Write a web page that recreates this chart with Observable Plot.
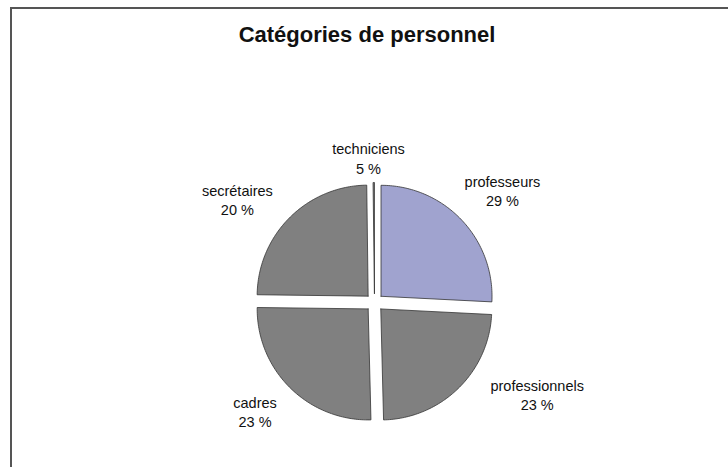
<!DOCTYPE html>
<html><head><meta charset="utf-8">
<script src="https://cdn.jsdelivr.net/npm/d3@7"></script>
<script src="https://cdn.jsdelivr.net/npm/@observablehq/plot@0.6"></script>
<style>
body{margin:0;background:#fff;}
#wrap{position:relative;width:728px;height:467px;overflow:hidden;font-family:"Liberation Sans",Arial,sans-serif;}
#frame{position:absolute;left:10px;top:7px;width:740px;height:480px;border-left:2px solid #555;border-top:2px solid #555;}
#title{position:absolute;left:0;width:734px;top:21px;text-align:center;font-weight:bold;font-size:22px;line-height:28px;color:#111;}
#chart{position:absolute;left:0;top:0;}
</style></head><body>
<div id="wrap"><div id="frame"></div><div id="title">Catégories de personnel</div><div id="chart"></div></div>
<script>
// Data
const categories = ["professeurs", "professionnels", "cadres", "secrétaires", "techniciens"];
const sliceShare = [25.8, 23.8, 25.6, 24.6, 0.2];   // slice sizes as drawn
const labelPct = ["29 %", "23 %", "23 %", "20 %", "5 %"]; // data-label texts as printed
const sliceColors = ["#A0A3CF", "#808080", "#808080", "#808080", "#808080"];

// Layout (pixels)
const W = 728, H = 467, CX = 374, CY = 302, R = 111, EXPLODE = 9, LABEL_R = 160;
const labelNudge = [[12, -2], [51, -23], [-7, -5], [-24, 10], [-5, 15]];

const arcs = d3.pie().sort(null).value(d => d)(sliceShare);
const pts = [];
const labels = [];
arcs.forEach((a, i) => {
  const name = categories[i];
  const mid = (a.startAngle + a.endAngle) / 2;
  const ox = EXPLODE / R * Math.sin(mid), oy = EXPLODE / R * Math.cos(mid);
  pts.push({name, x: ox, y: oy});
  const n = Math.max(2, Math.ceil((a.endAngle - a.startAngle) / (Math.PI / 180)));
  for (let k = 0; k <= n; k++) {
    const t = a.startAngle + (a.endAngle - a.startAngle) * k / n;
    pts.push({name, x: ox + Math.sin(t), y: oy + Math.cos(t)});
  }
  pts.push({name, x: ox, y: oy});
  labels.push({
    text: name + "\n" + labelPct[i],
    x: LABEL_R / R * Math.sin(mid) + labelNudge[i][0] / R,
    y: LABEL_R / R * Math.cos(mid) - labelNudge[i][1] / R
  });
});

const chart = Plot.plot({
  width: W, height: H, margin: 0,
  style: {fontFamily: "'Liberation Sans', Arial, sans-serif", background: "transparent", overflow: "visible"},
  x: {domain: [-CX / R, (W - CX) / R], range: [0, W], axis: null},
  y: {domain: [(CY - H) / R, CY / R], range: [H, 0], axis: null},
  color: {domain: categories, range: sliceColors},
  marks: [
    Plot.line(pts, {x: "x", y: "y", z: "name", fill: "name", stroke: "#333", strokeWidth: 0.8, curve: "linear"}),
    Plot.text(labels, {x: "x", y: "y", text: "text", fontSize: 14.5, lineHeight: 1.35, fill: "#111", textAnchor: "middle", lineAnchor: "middle"})
  ]
});
document.getElementById("chart").append(chart);
</script>
</body></html>
